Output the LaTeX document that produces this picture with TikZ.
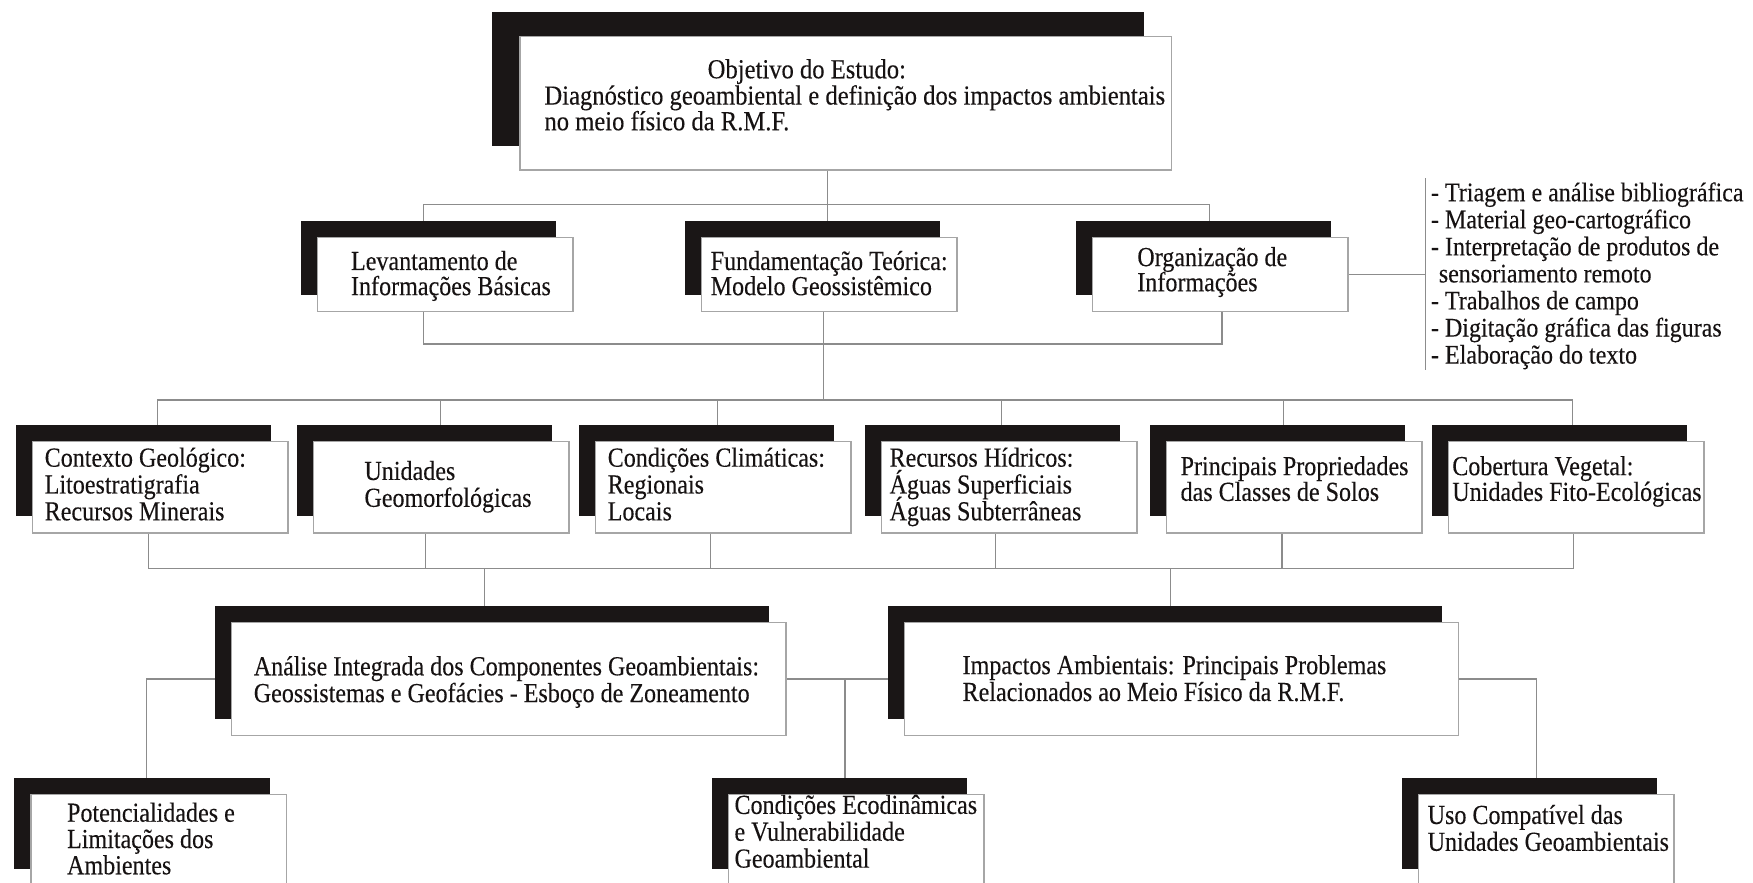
\documentclass[tikz,border=0pt]{standalone}
\usepackage{fontspec}
\setmainfont{Liberation Serif}[FakeStretch=0.875,FakeBold=0.2]
\newfontfamily\wideserif{Liberation Serif}[FakeStretch=0.895,FakeBold=0.2]
\usetikzlibrary{shadows}
\pgfdeclarelayer{back}
\pgfdeclarelayer{bg}
\pgfsetlayers{back,bg,main}
\definecolor{shade}{HTML}{1A1616}
\definecolor{edge}{HTML}{A6A6A6}
\definecolor{wirec}{HTML}{8C8C8C}
\definecolor{ink}{HTML}{161212}
\newcommand\txtlines[2]{\vtop{\baselineskip=#1pt\lineskiplimit=-50pt\lineskip=0pt\halign{##\hfil\cr#2\crcr}}}
\tikzset{
  panel/.style={draw=edge, line width=1.3pt, fill=white, anchor=north west, inner sep=0pt, minimum width=228.5pt, minimum height=#1},
  panel/.default=82pt,
  bigsh/.style={general shadow={fill=shade, shadow xshift=-24.7pt, shadow yshift=21.8pt}},
  smlsh/.style={general shadow={fill=shade, shadow xshift=-15pt, shadow yshift=15pt}},
  lbl/.style={anchor=base west, inner sep=0pt, outer sep=0pt, text=ink, font=\fontsize{24.6pt}{24pt}\selectfont},
  toplbl/.style={lbl, font=\wideserif\fontsize{24.6pt}{24pt}\selectfont},
  wire/.style={draw=wirec, line width=1.1pt},
}
\begin{document}
\begin{tikzpicture}[x=1pt,y=-1pt]
\useasboundingbox (0,0) rectangle (1568,789);
\begin{pgfonlayer}{back}
\fill[white] (0,0) rectangle (1568,789);
\end{pgfonlayer}

% ---------- boxes ----------
\node[panel=119.3pt, minimum width=582.5pt, bigsh] (obj) at (464.5,32.2) {};

\node[panel=66.5pt, smlsh] (lev)  at (283.3,211.7) {};
\node[panel=66.5pt, smlsh] (fund) at (627,211.7) {};
\node[panel=66.5pt, smlsh] (org)  at (976.6,211.7) {};

\node[panel, smlsh] (geo)  at (28.6,394.2) {};
\node[panel, smlsh] (geom) at (279.6,394.2) {};
\node[panel, smlsh] (clim) at (532,394.2) {};
\node[panel, smlsh] (hid)  at (788,394.2) {};
\node[panel, smlsh] (solo) at (1042.7,394.2) {};
\node[panel, smlsh] (veg)  at (1295,394.2) {};

\node[panel=101.4pt, minimum width=496pt, smlsh] (anal) at (206.3,556) {};
\node[panel=101.4pt, minimum width=495.5pt, smlsh] (imp) at (808.5,556) {};

\node[panel, smlsh] (pot) at (27,710) {};
\node[panel, smlsh] (eco) at (651,710) {};
\node[panel, smlsh] (uso) at (1268,710) {};

% ---------- texts ----------
\node[toplbl] (objT) at (633,70) {Objetivo do Estudo:};
\node[toplbl] (objB) at (487,93.5) {\txtlines{23}{Diagnóstico geoambiental e definição dos impactos ambientais\cr no meio físico da R.M.F.}};

\node[lbl] (levT)  at (314,241.5) {\txtlines{22.5}{Levantamento de\cr Informações Básicas}};
\node[lbl] (fundT) at (635.7,241.5) {\txtlines{22.5}{Fundamentação Teórica:\cr Modelo Geossistêmico}};
\node[lbl] (orgT)  at (1017.3,238) {\txtlines{22.5}{Organização de\cr Informações}};

\node[lbl, font=\wideserif\fontsize{24pt}{24pt}\selectfont] (list) at (1280,180) {\txtlines{24.2}{- Triagem e análise bibliográfica\cr - Material geo-cartográfico\cr - Interpretação de produtos de\cr \kern7pt sensoriamento remoto\cr - Trabalhos de campo\cr - Digitação gráfica das figuras\cr - Elaboração do texto}};

\node[lbl] (geoT)  at (40,417.4) {\txtlines{24}{Contexto Geológico:\cr Litoestratigrafia\cr Recursos Minerais}};
\node[lbl] (geomT) at (326,429.3) {\txtlines{24}{Unidades\cr Geomorfológicas}};
\node[lbl] (climT) at (543.6,417.4) {\txtlines{24}{Condições Climáticas:\cr Regionais\cr Locais}};
\node[lbl] (hidT)  at (795.7,417.4) {\txtlines{24}{Recursos Hídricos:\cr Águas Superficiais\cr Águas Subterrâneas}};
\node[lbl] (soloT) at (1056,425) {\txtlines{23}{Principais Propriedades\cr das Classes de Solos}};
\node[lbl] (vegT)  at (1299,425) {\txtlines{23}{Cobertura Vegetal:\cr Unidades Fito-Ecológicas}};

\node[lbl] (analT) at (227,604) {\txtlines{24}{Análise Integrada dos Componentes Geoambientais:\cr Geossistemas e Geofácies - Esboço de Zoneamento}};
\node[lbl] (impT)  at (861,603) {\txtlines{24}{Impactos Ambientais: Principais Problemas\cr Relacionados ao Meio Físico da R.M.F.}};

\node[lbl] (potT) at (60,735) {\txtlines{23.5}{Potencialidades e\cr Limitações dos\cr Ambientes}};
\node[lbl] (ecoT) at (657,728) {\txtlines{24}{Condições Ecodinâmicas\cr e Vulnerabilidade\cr Geoambiental}};
\node[lbl] (usoT) at (1277,737) {\txtlines{24}{Uso Compatível das\cr Unidades Geoambientais}};

% ---------- connectors ----------
\coordinate (j1) at (740.3,182.6);
\coordinate (j2) at (736.5,307.7);
\coordinate (j3) at (736.5,357.8);
\coordinate (j4) at (433.2,508.3);
\coordinate (j5) at (1046.9,508.3);
\coordinate (j6) at (755.8,605);
\coordinate (brT) at (1275,159.5);
\coordinate (brB) at (1275,331);

\begin{pgfonlayer}{bg}
% level 1 -> level 2
\draw[wire] (obj.south -| j1) -- (fund.north -| j1);
\draw[wire] ([xshift=-19.5pt]lev.north) |- (j1) -| ([xshift=-9.5pt]org.north);
% level 2 -> bus
\draw[wire] ([xshift=-19.5pt]lev.south) |- (j2) -| ([xshift=1.5pt]org.south);
\draw[wire] (fund.south -| j2) -- (j3);
% side list
\draw[wire] (org.east) -- (org.east -| brT);
\draw[wire] (brT) -- (brB);
% bus -> level 3
\draw[wire] ([xshift=-2.3pt]geo.north) |- (j3) -| ([xshift=-3.2pt]veg.north);
\draw[wire] ([xshift=-0.8pt]geom.north) -- ([xshift=-0.8pt]geom.north |- j3);
\draw[wire] ([xshift=-4.8pt]clim.north) -- ([xshift=-4.8pt]clim.north |- j3);
\draw[wire] ([xshift=-6.8pt]hid.north) -- ([xshift=-6.8pt]hid.north |- j3);
\draw[wire] ([xshift=-9.3pt]solo.north) -- ([xshift=-9.3pt]solo.north |- j3);
% level 3 -> bus
\draw[wire] ([xshift=-10.8pt]geo.south) |- (j4) -| ([xshift=-2.2pt]veg.south);
\draw[wire] ([xshift=-13.8pt]geom.south) -- ([xshift=-13.8pt]geom.south |- j4);
\draw[wire] ([xshift=-11.2pt]clim.south) -- ([xshift=-11.2pt]clim.south |- j4);
\draw[wire] ([xshift=-12.2pt]hid.south) -- ([xshift=-12.2pt]hid.south |- j4);
\draw[wire] ([xshift=-10.9pt]solo.south) -- ([xshift=-10.9pt]solo.south |- j4);
% bus -> level 4
\draw[wire] (j4) -- (j4 |- anal.north);
\draw[wire] (j5) -- (j5 |- imp.north);
% level 4 -> level 5
\draw[wire] (anal.east) -- (imp.west);
\draw[wire] (j6 |- anal.east) -- (j6 |- eco.north);
\draw[wire] (anal.west) -| ([xshift=-10.6pt]pot.north);
\draw[wire] (imp.east) -| ([xshift=-8.5pt]uso.north);
\end{pgfonlayer}
\end{tikzpicture}
\end{document}
